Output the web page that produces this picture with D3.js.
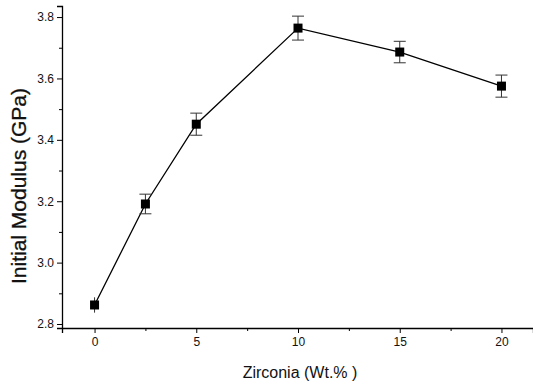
<!DOCTYPE html>
<html>
<head>
<meta charset="utf-8">
<script src="https://cdn.jsdelivr.net/npm/d3@7"></script>
<style>
  html, body { margin: 0; padding: 0; background: #fff; }
  svg { display: block; font-family: "Liberation Sans", Arial, sans-serif; }
</style>
</head>
<body>
<svg id="chart" width="533" height="387"></svg>
<script>
// Zirconia loading (wt.%) and measured initial modulus (GPa) with error
const zirconia = [0, 2.5, 5, 10, 15, 20];
const modulus  = [2.862, 3.191, 3.451, 3.764, 3.686, 3.575];
const modErr   = [0.025, 0.032, 0.036, 0.039, 0.035, 0.036];
const xTicks   = [0, 5, 10, 15, 20];
const yTicks   = [2.8, 3.0, 3.2, 3.4, 3.6, 3.8];

const svg = d3.select("#chart");
const plotL = 62, plotR = 533, plotT = 6, plotB = 328;

const x = d3.scaleLinear().domain([-1.6, 21.55]).range([plotL, plotR]);
const y = d3.scaleLinear().domain([2.787, 3.836]).range([plotB, plotT]);

// x axis: major ticks labelled, minor ticks between
svg.append("g").attr("transform", `translate(0,${plotB})`)
  .call(d3.axisBottom(x).tickValues(xTicks).tickSize(5).tickPadding(4).tickFormat(d3.format("d")));
svg.append("g").attr("transform", `translate(0,${plotB})`)
  .call(d3.axisBottom(x).tickValues([2.5, 7.5, 12.5, 17.5]).tickSize(3).tickFormat(""))
  .select(".domain").remove();

svg.append("g").attr("transform", `translate(${plotL},0)`)
  .call(d3.axisLeft(y).tickValues(yTicks).tickSize(5).tickPadding(3).tickFormat(d3.format(".1f")));
svg.append("g").attr("transform", `translate(${plotL},0)`)
  .call(d3.axisLeft(y).tickValues([2.9, 3.1, 3.3, 3.5, 3.7]).tickSize(3).tickFormat(""))
  .select(".domain").remove();

svg.selectAll(".domain").attr("stroke", "#000").attr("stroke-width", 1.3);
svg.selectAll(".tick line").attr("stroke", "#000").attr("stroke-width", 1);
svg.selectAll(".tick text").attr("fill", "#111").style("font-size", "12px");

// axis titles
svg.append("text")
  .attr("x", 300).attr("y", 378)
  .attr("text-anchor", "middle").style("font-size", "16px").attr("fill", "#111")
  .text("Zirconia (Wt.% )");
svg.append("text")
  .attr("transform", `translate(26,186) rotate(-90)`)
  .attr("text-anchor", "middle").style("font-size", "21px").attr("fill", "#111")
  .attr("stroke", "#111").attr("stroke-width", 0.3)
  .text("Initial Modulus (GPa)");

const pts = zirconia.map((z, i) => ({ z, v: modulus[i], e: modErr[i] }));

// connecting line
svg.append("path").datum(pts)
  .attr("fill", "none").attr("stroke", "#000").attr("stroke-width", 1.3)
  .attr("d", d3.line().x(d => x(d.z)).y(d => y(d.v)));

// error bars
const eb = svg.append("g").attr("stroke", "#333").attr("stroke-width", 1);
pts.forEach(d => {
  const cx = x(d.z), y1 = y(d.v + d.e), y2 = y(d.v - d.e);
  eb.append("line").attr("x1", cx).attr("x2", cx).attr("y1", y1).attr("y2", y2);
  if (d.z > 0) {
    eb.append("line").attr("x1", cx - 6).attr("x2", cx + 6).attr("y1", y1).attr("y2", y1);
    eb.append("line").attr("x1", cx - 6).attr("x2", cx + 6).attr("y1", y2).attr("y2", y2);
  }
});

// square markers
svg.append("g").selectAll("rect").data(pts).join("rect")
  .attr("x", d => x(d.z) - 4.5).attr("y", d => y(d.v) - 4.5)
  .attr("width", 9).attr("height", 9).attr("fill", "#000");
</script>
</body>
</html>
